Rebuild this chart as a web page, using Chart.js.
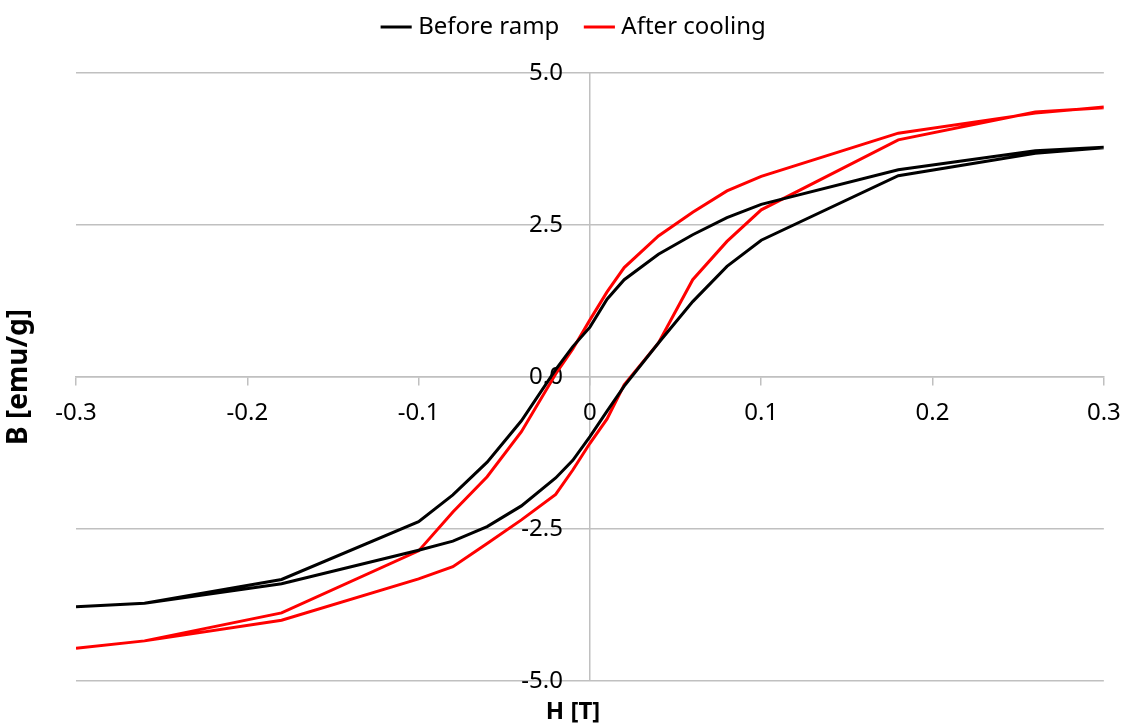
<!DOCTYPE html>
<html>
<head>
<meta charset="utf-8">
<title>Hysteresis loop</title>
<script src="https://cdn.jsdelivr.net/npm/chart.js@4.4.1/dist/chart.umd.min.js"></script>
<style>
  html, body { margin: 0; padding: 0; background: #fff; }
</style>
</head>
<body>
<canvas id="loopChart" width="1124" height="727"></canvas>
<script>
// Applied field H [T]: sweep from +0.3 down to -0.3, then back up
const fieldDown = [0.3, 0.26, 0.18, 0.1, 0.08, 0.06, 0.04, 0.02, 0.01, 0, -0.01, -0.02, -0.04, -0.06, -0.08, -0.1, -0.18, -0.26, -0.3];
const fieldUp = [-0.3, -0.26, -0.18, -0.1, -0.08, -0.06, -0.04, -0.02, -0.01, 0, 0.01, 0.02, 0.04, 0.06, 0.08, 0.1, 0.18, 0.26, 0.3];

// Magnetisation B [emu/g] on each branch
const beforeDown = [3.78, 3.72, 3.41, 2.84, 2.62, 2.34, 2.02, 1.60, 1.28, 0.82, 0.50, 0.12, -0.72, -1.40, -1.94, -2.38, -3.33, -3.72, -3.78];
const beforeUp = [-3.78, -3.72, -3.40, -2.85, -2.70, -2.46, -2.12, -1.66, -1.37, -0.98, -0.56, -0.15, 0.56, 1.24, 1.82, 2.25, 3.31, 3.68, 3.77];
const afterDown = [4.44, 4.34, 4.01, 3.30, 3.06, 2.71, 2.32, 1.80, 1.40, 0.94, 0.46, 0.05, -0.90, -1.64, -2.22, -2.86, -3.88, -4.34, -4.46];
const afterUp = [-4.46, -4.34, -4.00, -3.32, -3.12, -2.74, -2.35, -1.93, -1.53, -1.09, -0.69, -0.13, 0.56, 1.60, 2.23, 2.75, 3.90, 4.36, 4.43];

const seriesNames = ['Before ramp', 'After cooling'];
const seriesColors = ['#000000', '#ff0000'];
const xTickLabels = ['-0.3', '-0.2', '-0.1', '0', '0.1', '0.2', '0.3'];
const yTickLabels = ['-5.0', '-2.5', '0.0', '2.5', '5.0'];
const xTitle = 'H [T]';
const yTitle = 'B [emu/g]';

const FONT = '"Noto Sans", "Open Sans", sans-serif';
const GRID = '#c0c0c0';
// y labels hang a little to the left of the H = 0 line
const yLabelAt = -0.0158;

function loop(down, up) {
  const pts = fieldDown.map((h, i) => ({ x: h, y: down[i] }));
  return pts.concat(fieldUp.map((h, i) => ({ x: h, y: up[i] })));
}

// extra room between legend and plot, and nudge the legend left
const legendGap = {
  id: 'legendGap',
  beforeInit(chart) {
    const fit = chart.legend.fit;
    chart.legend.fit = function () {
      fit.bind(chart.legend)();
      this.height += 24;
    };
  },
  afterLayout(chart) {
    chart.legend.left -= 14;
    chart.legend.right -= 14;
  }
};

// axis titles sit at the outer edges, not next to the centred axes
const axisTitles = {
  id: 'axisTitles',
  afterDraw(chart) {
    const ctx = chart.ctx;
    ctx.save();
    ctx.fillStyle = '#000';
    ctx.textAlign = 'center';
    ctx.textBaseline = 'middle';
    ctx.font = 'bold 24px ' + FONT;
    ctx.fillText(xTitle, 573, 712);
    ctx.font = 'bold 28px ' + FONT;
    ctx.translate(19, 377);
    ctx.rotate(-Math.PI / 2);
    ctx.fillText(yTitle, 0, 0);
    ctx.restore();
  }
};

new Chart(document.getElementById('loopChart'), {
  type: 'scatter',
  data: {
    datasets: [
      { label: seriesNames[0], data: loop(beforeDown, beforeUp) },
      { label: seriesNames[1], data: loop(afterDown, afterUp) }
    ].map((ds, i) => ({
      ...ds,
      showLine: true,
      borderColor: seriesColors[i],
      backgroundColor: seriesColors[i],
      borderWidth: 3,
      pointRadius: 0,
      tension: 0
    }))
  },
  options: {
    responsive: false,
    animation: false,
    layout: { padding: { left: 76, right: 20, top: -15, bottom: 46 } },
    plugins: {
      tooltip: { enabled: false },
      legend: {
        position: 'top',
        labels: {
          usePointStyle: true,
          pointStyle: 'line',
          boxWidth: 20,
          boxHeight: 22,
          padding: 30,
          color: '#000',
          font: { family: FONT, size: 24 }
        }
      }
    },
    scales: {
      x: {
        type: 'linear',
        position: { y: 0 },
        min: -0.3,
        max: 0.3,
        ticks: {
          stepSize: 0.1,
          padding: 3.2,
          color: '#000',
          font: { family: FONT, size: 24, lineHeight: 2.1 },
          callback: (v, i) => xTickLabels[i]
        },
        grid: {
          // only the H = 0 line is drawn vertically
          color: ctx => (ctx.tick && Math.abs(ctx.tick.value) < 1e-9 ? GRID : 'rgba(0,0,0,0)'),
          tickColor: GRID,
          tickLength: 8,
          lineWidth: 1.5
        },
        border: { display: true, color: GRID, width: 1.5 }
      },
      y: {
        type: 'linear',
        position: { x: yLabelAt },
        min: -5,
        max: 5,
        ticks: {
          stepSize: 2.5,
          color: '#000',
          font: { family: FONT, size: 24 },
          callback: (v, i) => yTickLabels[i]
        },
        grid: { color: GRID, lineWidth: 1.5, drawTicks: false },
        border: { display: false }
      }
    }
  },
  plugins: [legendGap, axisTitles]
});
</script>
</body>
</html>
